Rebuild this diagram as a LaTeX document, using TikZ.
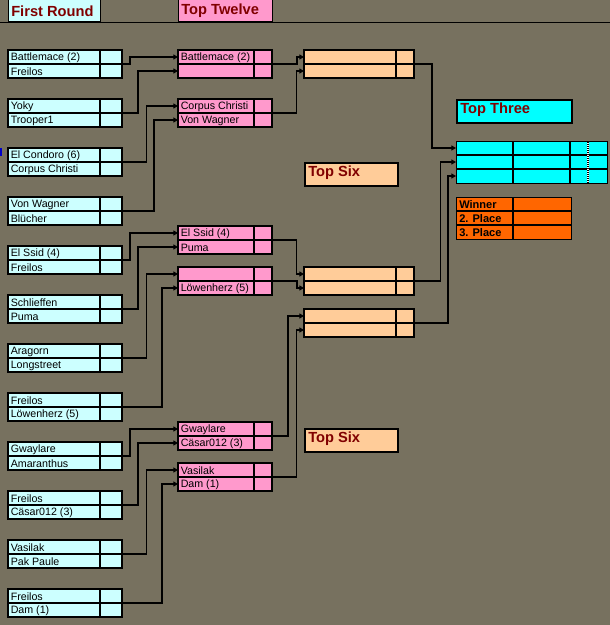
\documentclass[tikz,border=0pt]{standalone}
\usepackage{fontspec}
\setmainfont{Liberation Sans}
\usetikzlibrary{arrows.meta}
\definecolor{bg}{RGB}{119,113,95}
\definecolor{frcol}{RGB}{204,255,255}
\definecolor{ttcol}{RGB}{255,153,204}
\definecolor{tscol}{RGB}{255,204,153}
\definecolor{tthree}{RGB}{0,255,255}
\definecolor{wcol}{RGB}{255,102,0}
\definecolor{hred}{RGB}{128,0,0}
\definecolor{bluemark}{RGB}{0,0,200}
\tikzset{
  boxshape/.style={draw=black, line width=0.8pt, inner sep=0pt, outer sep=0pt, minimum height=21pt, anchor=north west},
  gridline/.style={draw=black, line width=0.8pt},
  nm/.style={anchor=west, inner sep=0pt, font=\fontsize{8}{9}\selectfont, text=black},
  conn/.style={draw=black, line width=0.8pt, -{Triangle[length=3.5pt,width=3.8pt]}},
  hdr/.style={draw=black, line width=0.8pt, inner sep=0pt, anchor=north west, minimum height=16.5pt},
  hdrtxt/.style={anchor=west, inner sep=0pt, font=\fontsize{11}{13}\selectfont\bfseries, text=hred},
  lab/.style={draw=black, line width=1.6pt, inner sep=0pt, anchor=north west, minimum height=17pt},
  wtxt/.style={anchor=west, inner sep=0pt, font=\fontsize{8.3}{9}\selectfont\bfseries, text=black},
}
% #1 name, #2 x, #3 y, #4 width, #5 divider offset, #6 fill, #7 text1, #8 text2
\newcommand\twobox[8]{%
  \node[boxshape, fill=#6, minimum width=#4*0.75pt] (#1) at (#2,#3) {};
  \draw[gridline] (#2,#3+14) -- (#2+#4,#3+14);
  \draw[gridline] (#2+#5,#3) -- (#2+#5,#3+28);
  \coordinate (#1a) at (#2,#3+7);
  \coordinate (#1b) at (#2,#3+21);
  \node[nm] (#1ta) at (#2+2.5,#3+7.5) {#7};
  \node[nm] (#1tb) at (#2+2.5,#3+21.5) {#8};
}
\begin{document}
\begin{tikzpicture}[x=0.75pt,y=-0.75pt]
\fill[bg] (0,0) rectangle (610,625);
\useasboundingbox (0,0) rectangle (610,625);
% header
\node[hdr, fill=frcol, minimum width=92*0.75pt] (hfr) at (8,-1) {};
\node[hdrtxt] (hfrt) at (11,11) {First Round};
\node[hdr, fill=ttcol, minimum width=94*0.75pt] (htt) at (178,-1) {};
\node[hdrtxt] (httt) at (181,11) {Top Twelve};
\draw[line width=1.1pt] (0,22.5) -- (610,22.5);
\fill[bluemark] (0,148) rectangle (2,156);
% first round
\twobox{fra}{8}{50}{114}{92}{frcol}{Battlemace (2)}{Freilos}
\twobox{frb}{8}{99}{114}{92}{frcol}{Yoky}{Trooper1}
\twobox{frc}{8}{148}{114}{92}{frcol}{El Condoro (6)}{Corpus Christi}
\twobox{frd}{8}{197}{114}{92}{frcol}{Von Wagner}{Blücher}
\twobox{fre}{8}{246}{114}{92}{frcol}{El Ssid (4)}{Freilos}
\twobox{frf}{8}{295}{114}{92}{frcol}{Schlieffen}{Puma}
\twobox{frg}{8}{344}{114}{92}{frcol}{Aragorn}{Longstreet}
\twobox{frh}{8}{393}{114}{92}{frcol}{Freilos}{Löwenherz (5)}
\twobox{fri}{8}{442}{114}{92}{frcol}{Gwaylare}{Amaranthus}
\twobox{frj}{8}{491}{114}{92}{frcol}{Freilos}{Cäsar012 (3)}
\twobox{frk}{8}{540}{114}{92}{frcol}{Vasilak}{Pak Paule}
\twobox{frl}{8}{589}{114}{92}{frcol}{Freilos}{Dam (1)}
% top twelve
\twobox{tta}{178}{50}{94}{76}{ttcol}{Battlemace (2)}{}
\twobox{ttb}{178}{99}{94}{76}{ttcol}{Corpus Christi}{Von Wagner}
\twobox{ttc}{178}{226}{94}{76}{ttcol}{El Ssid (4)}{Puma}
\twobox{ttd}{178}{267}{94}{76}{ttcol}{}{Löwenherz (5)}
\twobox{tte}{178}{422}{94}{76}{ttcol}{Gwaylare}{Cäsar012 (3)}
\twobox{ttf}{178}{463}{94}{76}{ttcol}{Vasilak}{Dam (1)}
% top six
\twobox{tsa}{304}{50}{110}{92}{tscol}{}{}
\twobox{tsb}{304}{267}{110}{92}{tscol}{}{}
\twobox{tsc}{304}{309}{110}{92}{tscol}{}{}
% labels
\node[lab, fill=tthree, minimum width=115*0.75pt] (lthree) at (456,99) {};
\node[hdrtxt] (lthreet) at (460,109.5) {Top Three};
\node[lab, fill=tscol, minimum width=93*0.75pt] (lsixa) at (304,162) {};
\node[hdrtxt] (lsixat) at (308,172.5) {Top Six};
\node[lab, fill=tscol, minimum width=93*0.75pt] (lsixb) at (304,428) {};
\node[hdrtxt] (lsixbt) at (308,438.5) {Top Six};
% top three table
\node[draw=black, line width=0.8pt, fill=tthree, inner sep=0pt, anchor=north west, minimum width=151*0.75pt, minimum height=42*0.75pt] (tthr) at (456,141) {};
\draw[gridline] (456,155) -- (607,155) (456,169) -- (607,169);
\draw[gridline] (513,141) -- (513,183) (570,141) -- (570,183);
\draw[white, line width=0.8pt] (588,141.5) -- (588,182.5);
\draw[black, line width=0.8pt, dash pattern=on 0.75pt off 0.75pt] (588,141.5) -- (588,182.5);
\coordinate (tthra) at (456,148);
\coordinate (tthrb) at (456,162);
\coordinate (tthrc) at (456,176);
% winner table
\node[draw=black, line width=0.8pt, fill=wcol, inner sep=0pt, anchor=north west, minimum width=115*0.75pt, minimum height=42*0.75pt] (win) at (456,197) {};
\draw[gridline] (456,211) -- (571,211) (456,225) -- (571,225);
\draw[gridline] (513,197) -- (513,239);
\node[wtxt] (wa) at (459,204.5) {Winner};
\node[wtxt] (wb) at (459,218.5) {2. Place};
\node[wtxt] (wcc) at (459,232.5) {3. Place};
% connectors first round -> top twelve
\draw[conn] (fra.east) -- ++(8,0) |- (ttaa);
\draw[conn] (frb.east) -- ++(16,0) |- (ttab);
\draw[conn] (frc.east) -- ++(24.5,0) |- (ttba);
\draw[conn] (frd.east) -- ++(32,0) |- (ttbb);
\draw[conn] (fre.east) -- ++(8,0) |- (ttca);
\draw[conn] (frf.east) -- ++(16,0) |- (ttcb);
\draw[conn] (frg.east) -- ++(24.5,0) |- (ttda);
\draw[conn] (frh.east) -- ++(40,0) |- (ttdb);
\draw[conn] (fri.east) -- ++(8,0) |- (ttea);
\draw[conn] (frj.east) -- ++(16,0) |- (tteb);
\draw[conn] (frk.east) -- ++(24.5,0) |- (ttfa);
\draw[conn] (frl.east) -- ++(40,0) |- (ttfb);
% top twelve -> top six
\draw[conn] (tta.east) -- ++(25,0) |- (tsaa);
\draw[conn] (ttb.east) -- ++(24.5,0) |- (tsab);
\draw[conn] (ttc.east) -- ++(24.5,0) |- (tsba);
\draw[conn] (ttd.east) -- ++(25,0) |- (tsbb);
\draw[conn] (tte.east) -- ++(16,0) |- (tsca);
\draw[conn] (ttf.east) -- ++(24.5,0) |- (tscb);
% top six -> top three
\draw[conn] (tsa.east) -- ++(18,0) |- (tthra);
\draw[conn] (tsb.east) -- ++(26.5,0) |- (tthrb);
\draw[conn] (tsc.east) -- ++(34,0) |- (tthrc);
\end{tikzpicture}
\end{document}
